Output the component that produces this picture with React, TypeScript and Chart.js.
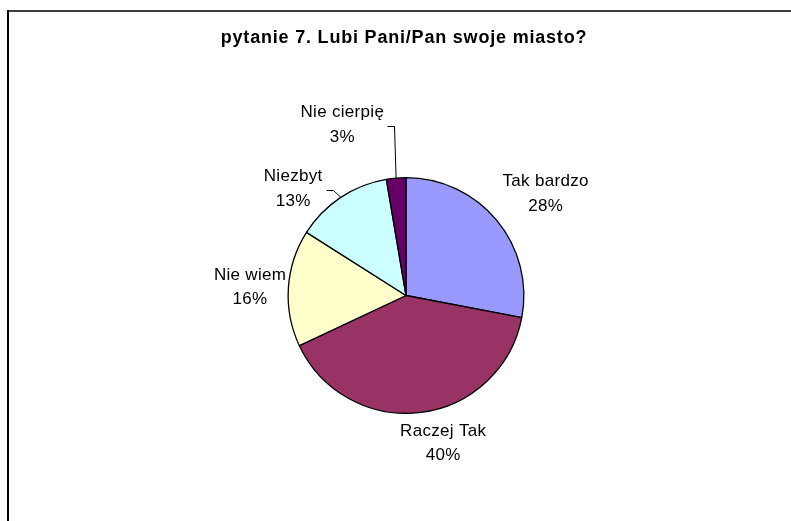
import React, { useEffect, useRef } from "react";
import { Chart, registerables } from "chart.js";

Chart.register(...registerables);

const TITLE = "pytanie 7. Lubi Pani/Pan swoje miasto?";
const categories = ["Tak bardzo", "Raczej Tak", "Nie wiem", "Niezbyt", "Nie cierpię"];
const counts = [21, 30, 12, 10, 2];
const colors = ["#9999FF", "#993366", "#FFFFCC", "#CCFFFF", "#660066"];
// label placement tweaks (layout only): [dx, dy, leader]
const labelNudge: [number, number, boolean][] = [
  [6, 9, false],
  [18, -4, false],
  [8, 2, false],
  [-24, 27, true],
  [-51, -20, true],
];

const FONT = "'Liberation Sans', Arial, sans-serif";

export default function App() {
  const ref = useRef<HTMLCanvasElement | null>(null);

  useEffect(() => {
    if (!ref.current) return;
    const total = counts.reduce((a, b) => a + b, 0);

    const framePlugin = {
      id: "frame",
      beforeDraw(chart: any) {
        const ctx = chart.ctx;
        ctx.save();
        ctx.fillStyle = "#ffffff";
        ctx.fillRect(0, 0, chart.width, chart.height);
        ctx.fillStyle = "#404040";
        ctx.fillRect(8, 10, chart.width - 8, 2);
        ctx.fillStyle = "#000000";
        ctx.fillRect(7, 10, 2, chart.height - 10);
        // title
        ctx.fillStyle = "#000";
        ctx.font = `bold 18px ${FONT}`;
        (ctx as any).letterSpacing = "0.8px";
        ctx.textAlign = "center";
        ctx.textBaseline = "middle";
        ctx.fillText(TITLE, 404, 38);
        ctx.restore();
      },
    };

    const labelPlugin = {
      id: "pieLabels",
      afterDatasetsDraw(chart: any) {
        const ctx = chart.ctx;
        const meta = chart.getDatasetMeta(0);
        ctx.save();
        ctx.font = `17px ${FONT}`;
        (ctx as any).letterSpacing = "0.3px";
        ctx.fillStyle = "#000";
        ctx.strokeStyle = "#000";
        ctx.lineWidth = 1;
        ctx.textAlign = "center";
        ctx.textBaseline = "middle";
        const lineGap = 24.5;
        meta.data.forEach((arc: any, i: number) => {
          const { x, y, startAngle, endAngle, outerRadius } = arc.getProps(
            ["x", "y", "startAngle", "endAngle", "outerRadius"],
            true
          );
          const mid = (startAngle + endAngle) / 2;
          const cx = Math.cos(mid);
          const sy = Math.sin(mid);
          const name = categories[i];
          const pct = Math.round((counts[i] / total) * 100) + "%";
          const w = Math.max(ctx.measureText(name).width, ctx.measureText(pct).width);
          const h = 42;
          const extent = Math.abs(cx) * (w / 2) + Math.abs(sy) * (h / 2);
          const d = outerRadius + 9 + extent;
          const [dx, dy, leader] = labelNudge[i];
          const lx = x + cx * d + dx;
          const ly = y + sy * d + dy;
          ctx.fillText(name, lx, ly - lineGap / 2);
          ctx.fillText(pct, lx, ly + lineGap / 2);
          if (leader) {
            const nameW = ctx.measureText(name).width;
            const sx0 = Math.round(lx + nameW / 2 + 3) + 0.5;
            const yl = Math.round(ly) + 1.5;
            const ex = x + cx * outerRadius;
            const ey = y + sy * outerRadius;
            ctx.beginPath();
            ctx.moveTo(sx0, yl);
            ctx.lineTo(sx0 + 7, yl);
            ctx.lineTo(ex, ey);
            ctx.stroke();
          }
        });
        ctx.restore();
      },
    };

    const chart = new Chart(ref.current, {
      type: "pie",
      data: {
        labels: categories,
        datasets: [
          {
            data: counts,
            backgroundColor: colors,
            borderColor: "#000000",
            borderWidth: 1.3,
          },
        ],
      },
      options: {
        responsive: false,
        animation: false,
        devicePixelRatio: 1,
        layout: { padding: { left: 206, right: 185, top: 177, bottom: 107 } },
        plugins: {
          legend: { display: false },
          tooltip: { enabled: false },
          title: { display: false },
        },
      },
      plugins: [framePlugin, labelPlugin],
    } as any);
    return () => chart.destroy();
  }, []);

  return (
    <div style={{ position: "fixed", left: 0, top: 0, width: 791, height: 521, background: "#fff" }}>
      <canvas ref={ref} width={791} height={521} style={{ display: "block" }} />
    </div>
  );
}
